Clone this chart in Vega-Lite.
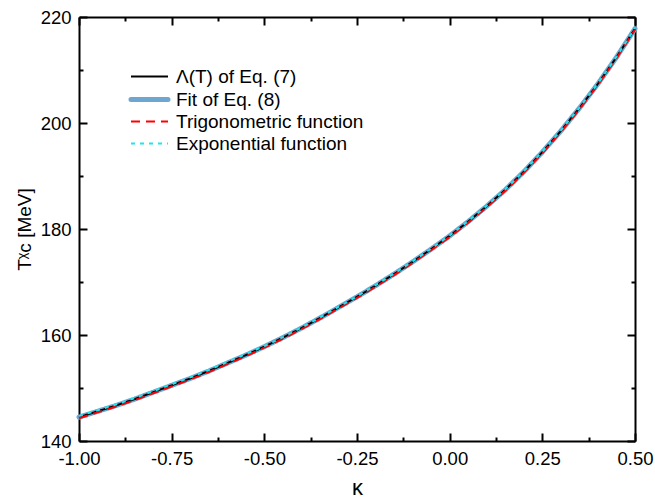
{
  "$schema": "https://vega.github.io/schema/vega-lite/v6.json",
  "width": 556,
  "height": 424,
  "autosize": {"type": "none"},
  "padding": {"left": 79, "top": 17, "right": 20, "bottom": 63},
  "config": {
    "view": {"stroke": null},
    "font": "Liberation Sans",
    "axis": {
      "domainColor": "#000000",
      "domainWidth": 2,
      "tickColor": "#000000",
      "tickWidth": 2,
      "grid": false,
      "labelFont": "Liberation Sans",
      "labelFontSize": 18.5,
      "labelColor": "#000000",
      "titleFont": "Liberation Sans",
      "titleColor": "#000000",
      "titleFontWeight": "normal"
    },
    "legend": {
      "orient": "none",
      "legendX": 61,
      "legendY": 50,
      "symbolType": "stroke",
      "symbolSize": 1369,
      "rowPadding": 2,
      "labelOffset": 17,
      "labelLimit": 400,
      "labelFont": "Liberation Sans",
      "labelFontSize": 19,
      "labelColor": "#000000",
      "title": null
    }
  },
  "data": {
    "values": [
      {"k": -1.00, "a": 144.5, "b": 144.5, "c": 144.3, "d": 144.7},
      {"k": -0.95, "a": 145.6, "b": 145.6, "c": 145.4, "d": 145.8},
      {"k": -0.90, "a": 146.7, "b": 146.7, "c": 146.5, "d": 146.9},
      {"k": -0.85, "a": 147.9, "b": 147.9, "c": 147.7, "d": 148.1},
      {"k": -0.80, "a": 149.2, "b": 149.2, "c": 149.0, "d": 149.4},
      {"k": -0.75, "a": 150.5, "b": 150.5, "c": 150.3, "d": 150.7},
      {"k": -0.70, "a": 151.8, "b": 151.8, "c": 151.6, "d": 152.0},
      {"k": -0.65, "a": 153.2, "b": 153.2, "c": 153.0, "d": 153.4},
      {"k": -0.60, "a": 154.7, "b": 154.7, "c": 154.5, "d": 154.9},
      {"k": -0.55, "a": 156.2, "b": 156.2, "c": 156.0, "d": 156.4},
      {"k": -0.50, "a": 157.8, "b": 157.8, "c": 157.6, "d": 157.9},
      {"k": -0.45, "a": 159.5, "b": 159.5, "c": 159.3, "d": 159.6},
      {"k": -0.40, "a": 161.3, "b": 161.3, "c": 161.1, "d": 161.4},
      {"k": -0.35, "a": 163.2, "b": 163.2, "c": 163.0, "d": 163.3},
      {"k": -0.30, "a": 165.2, "b": 165.2, "c": 165.0, "d": 165.3},
      {"k": -0.25, "a": 167.2, "b": 167.2, "c": 167.0, "d": 167.3},
      {"k": -0.20, "a": 169.3, "b": 169.3, "c": 169.1, "d": 169.4},
      {"k": -0.15, "a": 171.5, "b": 171.5, "c": 171.3, "d": 171.6},
      {"k": -0.10, "a": 173.8, "b": 173.8, "c": 173.6, "d": 173.9},
      {"k": -0.05, "a": 176.2, "b": 176.2, "c": 176.0, "d": 176.3},
      {"k": 0.00, "a": 178.7, "b": 178.7, "c": 178.5, "d": 178.8},
      {"k": 0.05, "a": 181.4, "b": 181.4, "c": 181.2, "d": 181.5},
      {"k": 0.10, "a": 184.3, "b": 184.3, "c": 184.1, "d": 184.4},
      {"k": 0.15, "a": 187.4, "b": 187.4, "c": 187.2, "d": 187.5},
      {"k": 0.20, "a": 190.8, "b": 190.8, "c": 190.6, "d": 190.9},
      {"k": 0.25, "a": 194.5, "b": 194.5, "c": 194.3, "d": 194.6},
      {"k": 0.30, "a": 198.5, "b": 198.5, "c": 198.3, "d": 198.6},
      {"k": 0.35, "a": 202.8, "b": 202.8, "c": 202.6, "d": 202.9},
      {"k": 0.40, "a": 207.4, "b": 207.4, "c": 207.2, "d": 207.5},
      {"k": 0.45, "a": 212.4, "b": 212.4, "c": 212.2, "d": 212.5},
      {"k": 0.50, "a": 217.8, "b": 217.8, "c": 217.6, "d": 217.9}
    ]
  },
  "transform": [{"fold": ["b", "a", "c", "d"], "as": ["key", "T"]}],
  "layer": [
    {
      "transform": [{"filter": "datum.key === 'b'"}],
      "mark": {"type": "line", "strokeWidth": 5, "strokeCap": "round"},
      "encoding": {
        "x": {
          "field": "k", "type": "quantitative",
          "scale": {"domain": [-1, 0.5], "nice": false, "zero": false},
          "axis": {
            "orient": "bottom",
            "title": "κ",
            "titleFontSize": 22,
            "titlePadding": 6,
            "values": [-1, -0.875, -0.75, -0.625, -0.5, -0.375, -0.25, -0.125, 0, 0.125, 0.25, 0.375, 0.5],
            "labelExpr": "abs(round(datum.value*8)) % 2 == 0 ? replace(format(datum.value, '.2f'), '−', '-') : ''",
            "tickSize": {"condition": {"test": "abs(round(datum.value*8)) % 2 == 0", "value": -8}, "value": -4},
            "labelPadding": 16,
            "labelFlush": false,
            "labelOverlap": false
          }
        },
        "y": {
          "field": "T", "type": "quantitative",
          "scale": {"domain": [140, 220], "nice": false, "zero": false},
          "axis": {
            "orient": "left",
            "title": "Tᵡᴄ [MeV]",
            "titleFontSize": 19,
            "titlePadding": 6,
            "values": [140, 150, 160, 170, 180, 190, 200, 210, 220],
            "labelExpr": "datum.value % 20 == 0 ? datum.value : ''",
            "tickSize": {"condition": {"test": "datum.value % 20 == 0", "value": -8}, "value": -4},
            "labelPadding": 16,
            "labelFlush": false,
            "labelOverlap": false
          }
        },
        "color": {
          "field": "key", "type": "nominal",
          "scale": {"domain": ["a", "b", "c", "d"], "range": ["#000000", "#6ea6d2", "#ff0000", "#1de6ee"]},
          "legend": {
            "labelExpr": "datum.value === 'a' ? 'Λ(T) of Eq. (7)' : datum.value === 'b' ? 'Fit of Eq. (8)' : datum.value === 'c' ? 'Trigonometric function' : 'Exponential function'",
            "encode": {
              "symbols": {
                "update": {
                  "strokeWidth": {"signal": "datum.value === 'b' ? 5 : 2"},
                  "strokeDash": {"signal": "datum.value === 'c' ? [12, 13] : datum.value === 'd' ? [4.5, 6.5] : [1, 0]"},
                  "strokeCap": {"signal": "datum.value === 'b' ? 'round' : 'butt'"}
                }
              }
            }
          }
        },
        "strokeDash": {
          "field": "key", "type": "nominal",
          "scale": {"domain": ["a", "b", "c", "d"], "range": [[1, 0], [1, 0], [9, 6], [4, 5]]},
          "legend": {
            "labelExpr": "datum.value === 'a' ? 'Λ(T) of Eq. (7)' : datum.value === 'b' ? 'Fit of Eq. (8)' : datum.value === 'c' ? 'Trigonometric function' : 'Exponential function'"
          }
        }
      }
    },
    {
      "transform": [{"filter": "datum.key === 'a'"}],
      "mark": {"type": "line", "strokeWidth": 2},
      "encoding": {
        "x": {"field": "k", "type": "quantitative", "axis": null},
        "y": {"field": "T", "type": "quantitative", "axis": null},
        "color": {"field": "key", "type": "nominal"},
        "strokeDash": {"field": "key", "type": "nominal"}
      }
    },
    {
      "transform": [{"filter": "datum.key === 'c'"}],
      "mark": {"type": "line", "strokeWidth": 2},
      "encoding": {
        "x": {"field": "k", "type": "quantitative", "axis": null},
        "y": {"field": "T", "type": "quantitative", "axis": null},
        "color": {"field": "key", "type": "nominal"},
        "strokeDash": {"field": "key", "type": "nominal"}
      }
    },
    {
      "transform": [{"filter": "datum.key === 'd'"}],
      "mark": {"type": "line", "strokeWidth": 2},
      "encoding": {
        "x": {
          "field": "k", "type": "quantitative",
          "axis": {
            "orient": "top", "title": null, "labels": false,
            "values": [-1, -0.875, -0.75, -0.625, -0.5, -0.375, -0.25, -0.125, 0, 0.125, 0.25, 0.375, 0.5],
            "tickSize": {"condition": {"test": "abs(round(datum.value*8)) % 2 == 0", "value": -8}, "value": -4}
          }
        },
        "y": {
          "field": "T", "type": "quantitative",
          "axis": {
            "orient": "right", "title": null, "labels": false,
            "values": [140, 150, 160, 170, 180, 190, 200, 210, 220],
            "tickSize": {"condition": {"test": "datum.value % 20 == 0", "value": -8}, "value": -4}
          }
        },
        "color": {"field": "key", "type": "nominal"},
        "strokeDash": {"field": "key", "type": "nominal"}
      }
    }
  ],
  "resolve": {"axis": {"x": "independent", "y": "independent"}}
}
